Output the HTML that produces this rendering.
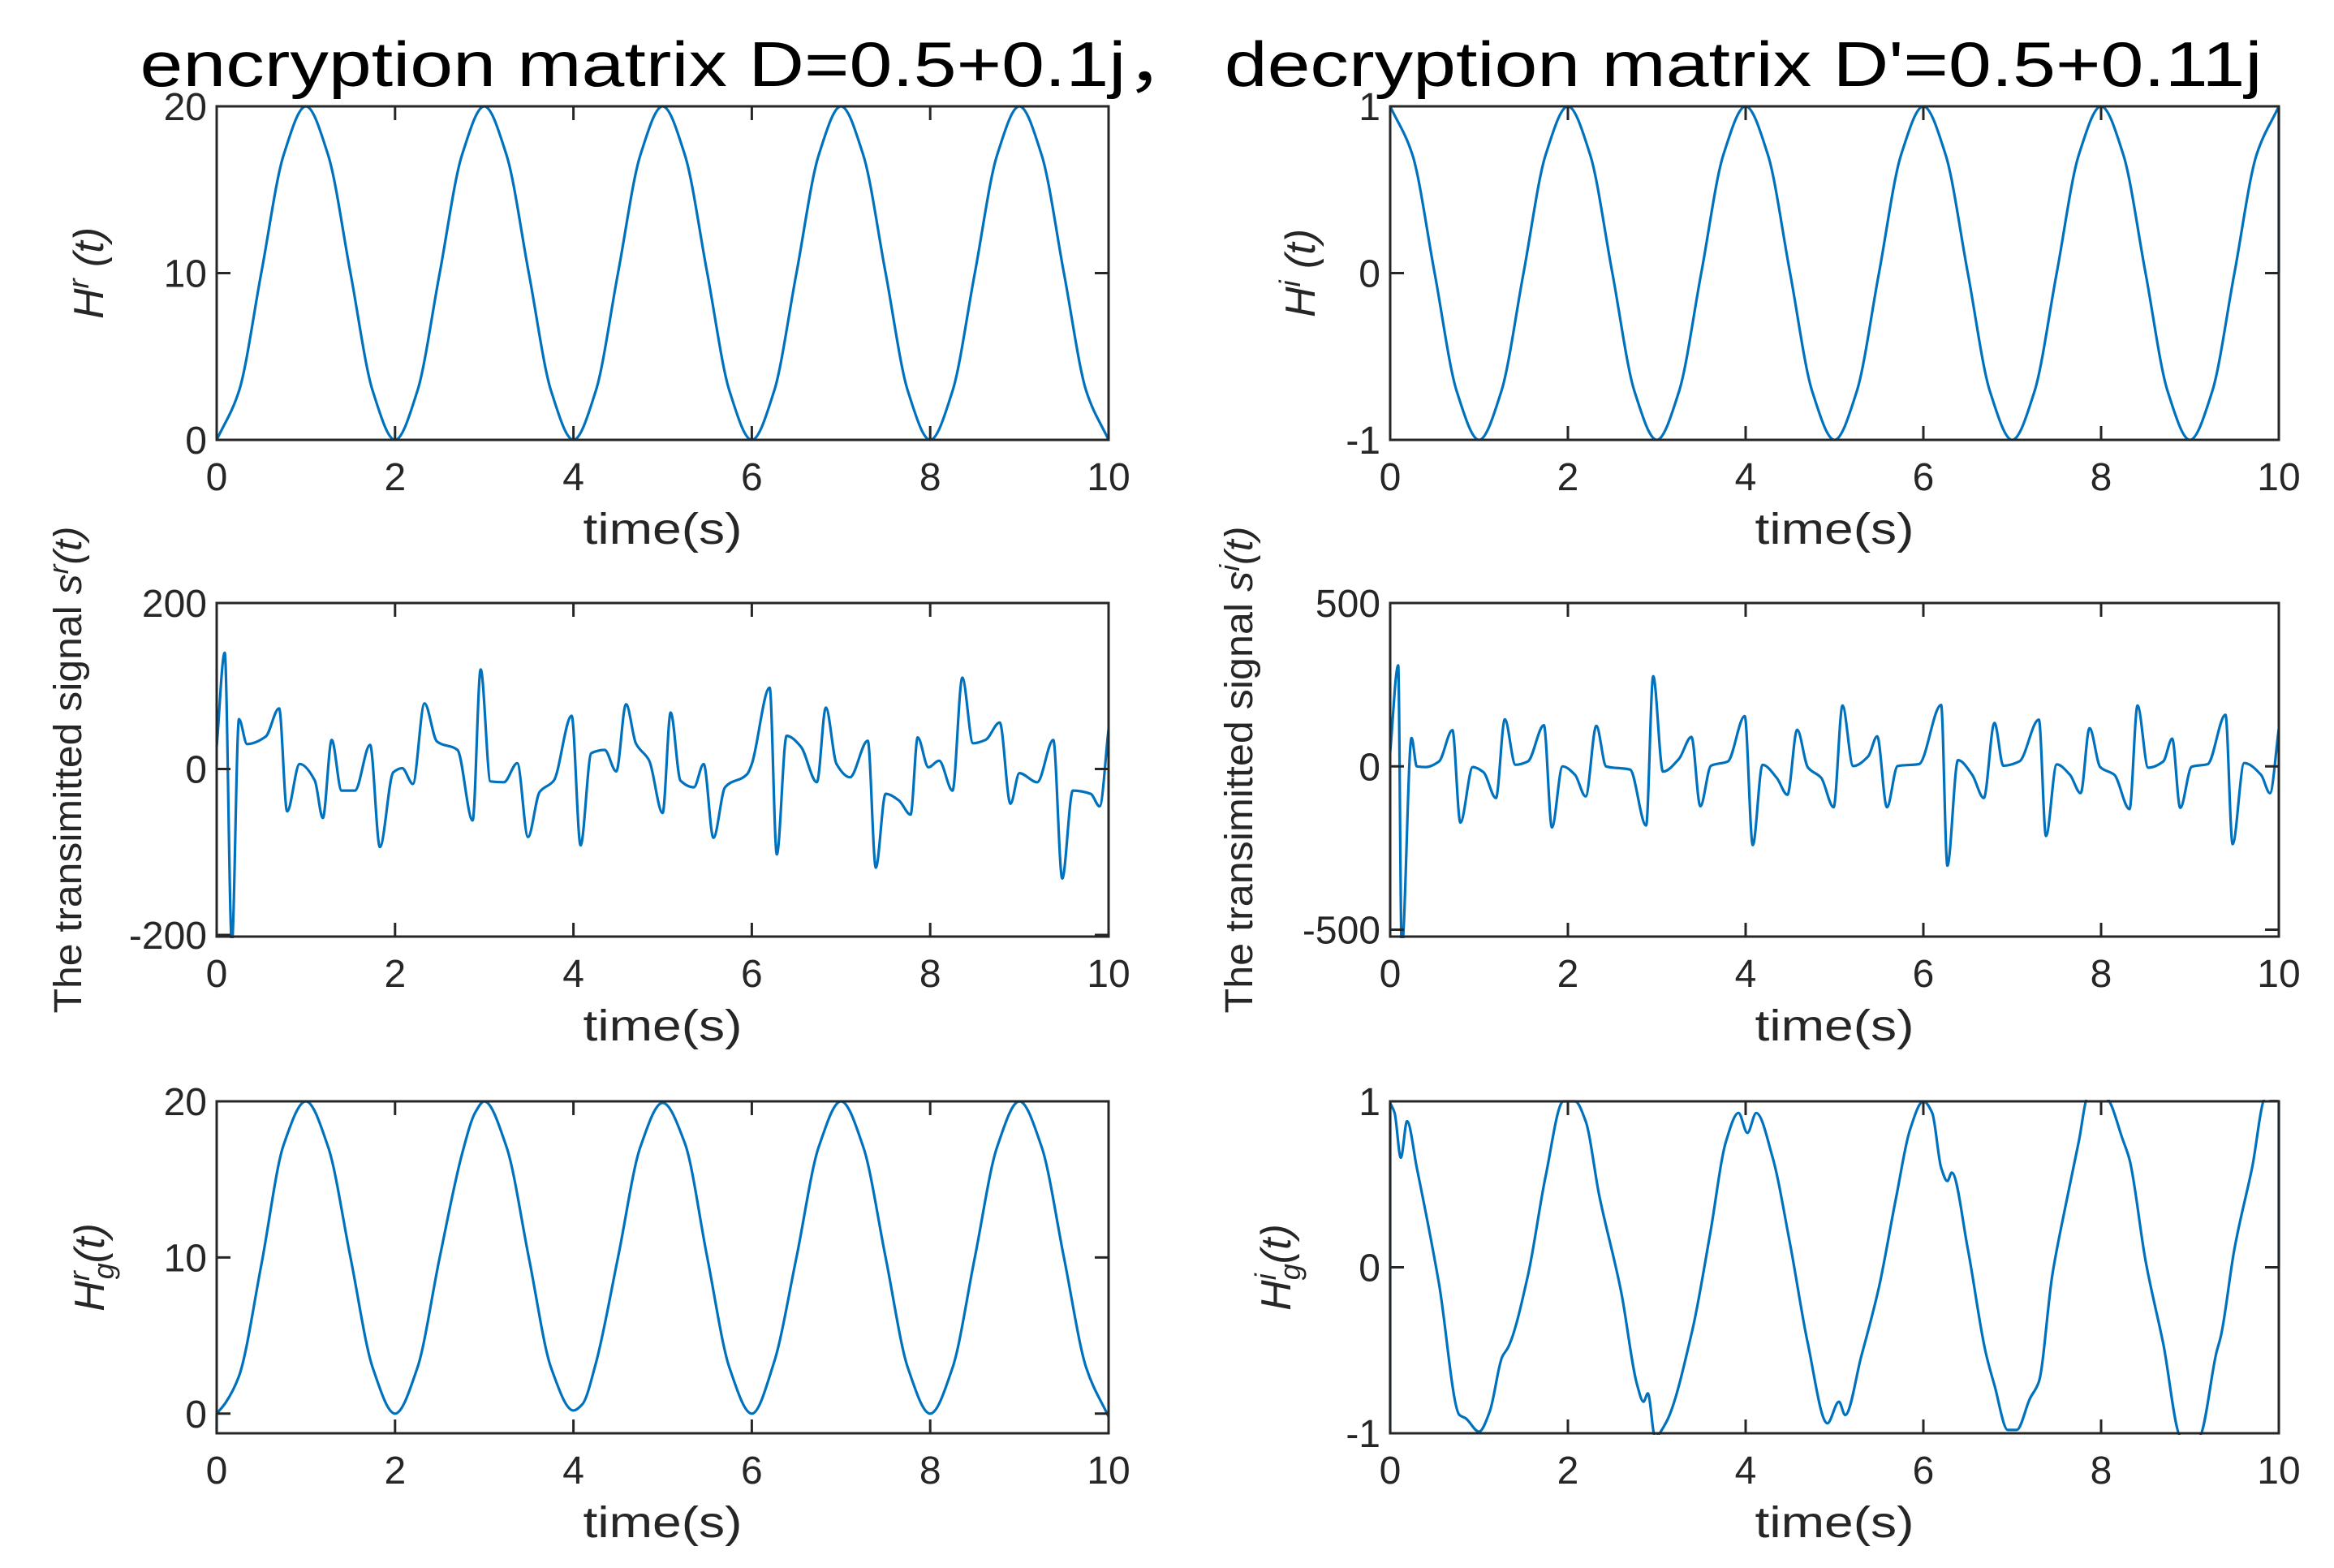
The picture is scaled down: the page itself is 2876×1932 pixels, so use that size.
<!DOCTYPE html>
<html><head><meta charset="utf-8"><style>
html,body{margin:0;padding:0;background:#fff;}
svg{display:block;font-family:"Liberation Sans","Noto Sans CJK SC",sans-serif;}
</style></head><body>
<svg id="fig" width="2876" height="1932" viewBox="0 0 2876 1932" xmlns="http://www.w3.org/2000/svg">
<rect width="2876" height="1932" fill="#fff"/>
<text x="1480" y="106" font-size="78" text-anchor="middle" textLength="2615" lengthAdjust="spacingAndGlyphs" fill="#000">encryption matrix D=0.5+0.1j，  decryption matrix D'=0.5+0.11j</text>
</svg>
<script>
// ---- data ----
const hrTimes = [0,0.25,0.5,0.75,1,1.25,1.5,1.75,2,2.25,2.5,2.75,3,3.25,3.5,3.75,4,4.25,4.5,4.75,5,5.25,5.5,5.75,6,6.25,6.5,6.75,7,7.25,7.5,7.75,8,8.25,8.5,8.75,9,9.25,9.5,9.75,10];
const hrValues = [0,2.93,10,17.07,20,17.07,10,2.93,0,2.93,10,17.07,20,17.07,10,2.93,0,2.93,10,17.07,20,17.07,10,2.93,0,2.93,10,17.07,20,17.07,10,2.93,0,2.93,10,17.07,20,17.07,10,2.93,0];
const hiTimes = [0,0.25,0.5,0.75,1,1.25,1.5,1.75,2,2.25,2.5,2.75,3,3.25,3.5,3.75,4,4.25,4.5,4.75,5,5.25,5.5,5.75,6,6.25,6.5,6.75,7,7.25,7.5,7.75,8,8.25,8.5,8.75,9,9.25,9.5,9.75,10,10];
const hiValues = [1,0.71,0,-0.71,-1,-0.71,0,0.71,1,0.71,0,-0.71,-1,-0.71,0,0.71,1,0.71,0,-0.71,-1,-0.71,0,0.71,1,0.71,0,-0.71,-1,-0.71,0,0.71,1,0.71,0,-0.71,-1,-0.71,0,0.71,1,0];
const srTimes = [0,0.09,0.17,0.25,0.34,0.55,0.7,0.79,0.93,1.1,1.19,1.29,1.4,1.55,1.72,1.83,1.98,2.08,2.2,2.33,2.47,2.7,2.87,2.96,3.07,3.22,3.37,3.49,3.62,3.78,3.98,4.08,4.2,4.35,4.48,4.59,4.7,4.85,5.0,5.09,5.2,5.35,5.46,5.57,5.7,5.95,6.0,6.2,6.28,6.39,6.55,6.73,6.83,6.95,7.1,7.3,7.39,7.5,7.65,7.78,7.86,7.98,8.1,8.25,8.36,8.48,8.62,8.78,8.9,9.0,9.2,9.38,9.48,9.6,9.8,9.9,10];
const srValues = [27,140,-210,60,30,39,73,-51,6,-14,-59,35,-26,-26,29,-94,-4,1,-18,79,33,23,-62,120,-15,-16,7,-82,-28,-14,64,-92,19,23,-3,78,31,10,-53,68,-14,-22,6,-83,-22,-6,6,98,-103,40,27,-16,74,6,-10,34,-119,-30,-38,-55,38,2,10,-26,110,31,35,56,-42,-5,-16,35,-132,-26,-30,-45,48];
const siTimes = [0,0.09,0.13,0.24,0.3,0.4,0.55,0.7,0.79,0.93,1.05,1.19,1.29,1.41,1.55,1.73,1.82,1.94,2.08,2.2,2.32,2.43,2.7,2.88,2.96,3.07,3.25,3.39,3.49,3.61,3.8,3.99,4.08,4.19,4.35,4.47,4.58,4.7,4.85,4.99,5.09,5.21,5.38,5.48,5.59,5.71,5.95,6.2,6.27,6.39,6.55,6.68,6.8,6.9,7.08,7.3,7.38,7.5,7.65,7.77,7.87,7.99,8.15,8.32,8.41,8.53,8.7,8.8,8.89,9.02,9.2,9.4,9.48,9.61,9.8,9.9,10];
const siValues = [44,309,-560,87,0,-2,15,111,-172,-2,-18,-97,144,5,15,126,-187,0,-26,-92,124,0,-10,-181,276,-16,23,90,-122,2,15,154,-241,5,-35,-87,112,-3,-35,-125,186,1,31,92,-125,1,7,188,-304,19,-26,-97,133,2,15,143,-213,6,-26,-82,117,-2,-26,-131,186,-4,15,85,-127,-1,7,158,-238,10,-26,-82,114];
const hgrTimes = [0,0,0.1,0.25,0.5,0.75,1,1.25,1.5,1.75,2,2.25,2.5,2.75,2.9,3,3.25,3.5,3.75,4,4.1,4.25,4.5,4.75,5,5.25,5.5,5.75,6,6.25,6.5,6.75,7,7.25,7.5,7.75,8,8.25,8.5,8.75,9,9.25,9.5,9.75,10];
const hgrValues = [-1.26,0,0.7,2.4,9.5,17.2,20,17.07,10,2.93,0,2.93,10,16.6,19.3,20,17.07,10,2.93,0.2,0.6,3.2,10,17.07,19.9,17.3,10,2.93,0,3.3,10,17.07,20,17.07,10,2.93,0,2.93,10,17.07,20,17.07,10,2.93,-0.2];
const hgiTimes = [0,0,0.05,0.12,0.19,0.3,0.55,0.78,0.85,1.0,1.12,1.26,1.33,1.55,1.75,1.95,2.08,2.2,2.35,2.6,2.78,2.85,2.9,2.98,3.1,3.4,3.6,3.78,3.92,4.02,4.12,4.3,4.5,4.7,4.92,5.05,5.12,5.3,5.5,5.7,5.85,6.0,6.1,6.2,6.27,6.32,6.5,6.7,6.8,6.95,7.05,7.2,7.3,7.45,7.6,7.75,7.85,8.05,8.25,8.32,8.5,8.7,8.9,9.1,9.3,9.35,9.5,9.7,9.85,10,10];
const hgiValues = [-1,0.99,0.93,0.66,0.88,0.6,-0.1,-0.89,-0.91,-0.99,-0.87,-0.54,-0.48,-0.05,0.55,1.0,1.0,0.88,0.44,-0.15,-0.71,-0.81,-0.76,-1.02,-0.94,-0.38,0.2,0.76,0.93,0.81,0.93,0.67,0.14,-0.46,-0.94,-0.81,-0.89,-0.54,-0.12,0.44,0.83,1.0,0.93,0.6,0.52,0.57,0.11,-0.51,-0.71,-0.98,-0.98,-0.79,-0.69,-0.05,0.37,0.76,1.02,1.02,0.76,0.65,0.04,-0.46,-1.02,-1.02,-0.51,-0.41,0.11,0.6,1.02,1.0,0];
const xTickLabels = ["0","2","4","6","8","10"];
const hrTickLabels = ["0","10","20"];
const hiTickLabels = ["-1","0","1"];
const srTickLabels = ["-200","0","200"];
const siTickLabels = ["-500","0","500"];

const NS = "http://www.w3.org/2000/svg";
const svg = document.getElementById('fig');
function mk(tag, attrs, parent){const e=document.createElementNS(NS,tag);for(const k in attrs)e.setAttribute(k,attrs[k]);(parent||svg).appendChild(e);return e;}

// monotone cubic path through pixel points; vertical jumps drawn as straight lines
function monoPath(pts){
  let d='M'+pts[0][0].toFixed(1)+','+pts[0][1].toFixed(1);
  // split into runs with strictly increasing x
  let runs=[], cur=[pts[0]];
  for(let i=1;i<pts.length;i++){
    if(pts[i][0]<=cur[cur.length-1][0]+0.01){runs.push(cur);cur=[pts[i]];}
    else cur.push(pts[i]);
  }
  runs.push(cur);
  runs.forEach((r,ri)=>{
    if(ri>0) d+=' L'+r[0][0].toFixed(1)+','+r[0][1].toFixed(1);
    const n=r.length; if(n<2) return;
    const dx=[],s=[];
    for(let i=0;i<n-1;i++){dx.push(r[i+1][0]-r[i][0]);s.push((r[i+1][1]-r[i][1])/dx[i]);}
    const m=new Array(n);
    m[0]=s[0]; m[n-1]=s[n-2];
    for(let i=1;i<n-1;i++){ if(s[i-1]*s[i]<=0) m[i]=0; else { const w1=2*dx[i]+dx[i-1], w2=dx[i]+2*dx[i-1]; m[i]=(w1+w2)/(w1/s[i-1]+w2/s[i]); } }
    for(let i=0;i<n-1;i++){
      const h=dx[i];
      const c1=[r[i][0]+h/3, r[i][1]+m[i]*h/3];
      const c2=[r[i+1][0]-h/3, r[i+1][1]-m[i+1]*h/3];
      d+=` C${c1[0].toFixed(1)},${c1[1].toFixed(1)} ${c2[0].toFixed(1)},${c2[1].toFixed(1)} ${r[i+1][0].toFixed(1)},${r[i+1][1].toFixed(1)}`;
    }
  });
  return d;
}

function panel(cfg){
  const g = mk('g',{});
  
  
  const L=cfg.x0,R=cfg.x1,T=cfg.y0,B=cfg.y1;
  const sx=t=>L+(t-0)/(10-0)*(R-L);
  const sy=v=>B-(v-cfg.ymin)/(cfg.ymax-cfg.ymin)*(B-T);
  const cid='clip-'+cfg.name;
  const cp=mk('clipPath',{id:cid},g); mk('rect',{x:L-2,y:T-2,width:R-L+4,height:B-T+4},cp);
  const pts=cfg.times.map((t,i)=>[sx(t),sy(cfg.values[i])]);
  const line=mk('path',{d:monoPath(pts),fill:'none',stroke:'#0072BD','stroke-width':3.2,'stroke-linejoin':'round','clip-path':'url(#'+cid+')'},g);
  
  
  const box=mk('rect',{x:L,y:T,width:R-L,height:B-T,fill:'none',stroke:'#262626','stroke-width':3},g);
  
  
  xTickLabels.forEach(lb=>{
    const x=sx(+lb);
    mk('line',{x1:x,y1:B,x2:x,y2:B-17,stroke:'#262626','stroke-width':3},g);
    mk('line',{x1:x,y1:T,x2:x,y2:T+17,stroke:'#262626','stroke-width':3},g);
    const tx=mk('text',{x:x,y:B+62,'font-size':48,'text-anchor':'middle',fill:'#262626'},g);
    tx.textContent=lb;
    
    
  });
  cfg.yticks.forEach(lb=>{
    const y=sy(+lb);
    mk('line',{x1:L,y1:y,x2:L+17,y2:y,stroke:'#262626','stroke-width':3},g);
    mk('line',{x1:R,y1:y,x2:R-17,y2:y,stroke:'#262626','stroke-width':3},g);
    const tx=mk('text',{x:L-12,y:y+17,'font-size':48,'text-anchor':'end',fill:'#262626'},g);
    tx.textContent=lb;
    
    
  });
  const xl=mk('text',{x:(L+R)/2,y:B+128,'font-size':54,'text-anchor':'middle',fill:'#262626',textLength:196,lengthAdjust:'spacingAndGlyphs'},g);
  xl.textContent='time(s)';
  
  
  const yl=mk('text',{x:0,y:0,'font-size':cfg.ylsize,'text-anchor':'middle',fill:'#262626',transform:`translate(${cfg.ylx},${(T+B)/2}) rotate(-90)`},g);
  yl.innerHTML=cfg.ylabel;
  if(cfg.yllen){yl.setAttribute('textLength',cfg.yllen);yl.setAttribute('lengthAdjust','spacingAndGlyphs');}
  
  
}
const LX0=267,LX1=1366,RX0=1713,RX1=2808;
panel({name:'hr-panel',x0:LX0,x1:LX1,y0:131,y1:542,ymin:0,ymax:20,times:hrTimes,values:hrValues,yticks:hrTickLabels,ylx:127,ylsize:52,
  ylabel:'<tspan font-style="italic">H</tspan><tspan font-style="italic" font-size="36" dy="-18">r</tspan><tspan font-style="italic" dy="18"> (t)</tspan>'});
panel({name:'hi-panel',x0:RX0,x1:RX1,y0:131,y1:542,ymin:-1,ymax:1,times:hiTimes,values:hiValues,yticks:hiTickLabels,ylx:1620,ylsize:52,
  ylabel:'<tspan font-style="italic">H</tspan><tspan font-style="italic" font-size="36" dy="-18">i</tspan><tspan font-style="italic" dy="18"> (t)</tspan>'});
panel({name:'sr-panel',x0:LX0,x1:LX1,y0:743,y1:1154,ymin:-202,ymax:200,times:srTimes,values:srValues,yticks:srTickLabels,ylx:100,ylsize:48,yllen:600,
  ylabel:'The transimitted signal <tspan font-style="italic">s</tspan><tspan font-style="italic" font-size="34" dy="-16">r</tspan><tspan font-style="italic" dy="16">(t)</tspan>'});
panel({name:'si-panel',x0:RX0,x1:RX1,y0:743,y1:1154,ymin:-521,ymax:500,times:siTimes,values:siValues,yticks:siTickLabels,ylx:1543,ylsize:48,yllen:600,
  ylabel:'The transimitted signal <tspan font-style="italic">s</tspan><tspan font-style="italic" font-size="34" dy="-16">i</tspan><tspan font-style="italic" dy="16">(t)</tspan>'});
panel({name:'hgr-panel',x0:LX0,x1:LX1,y0:1357,y1:1766,ymin:-1.26,ymax:20,times:hgrTimes,values:hgrValues,yticks:hrTickLabels,ylx:128,ylsize:52,
  ylabel:'<tspan font-style="italic">H</tspan><tspan font-style="italic" font-size="36" dy="-18">r</tspan><tspan font-style="italic" font-size="36" dx="-10" dy="30">g</tspan><tspan font-style="italic" dy="-12">(t)</tspan>'});
panel({name:'hgi-panel',x0:RX0,x1:RX1,y0:1357,y1:1766,ymin:-1,ymax:1,times:hgiTimes,values:hgiValues,yticks:hiTickLabels,ylx:1590,ylsize:52,
  ylabel:'<tspan font-style="italic">H</tspan><tspan font-style="italic" font-size="36" dy="-18">i</tspan><tspan font-style="italic" font-size="36" dx="-8" dy="30">g</tspan><tspan font-style="italic" dy="-12">(t)</tspan>'});
</script>
</body></html>
